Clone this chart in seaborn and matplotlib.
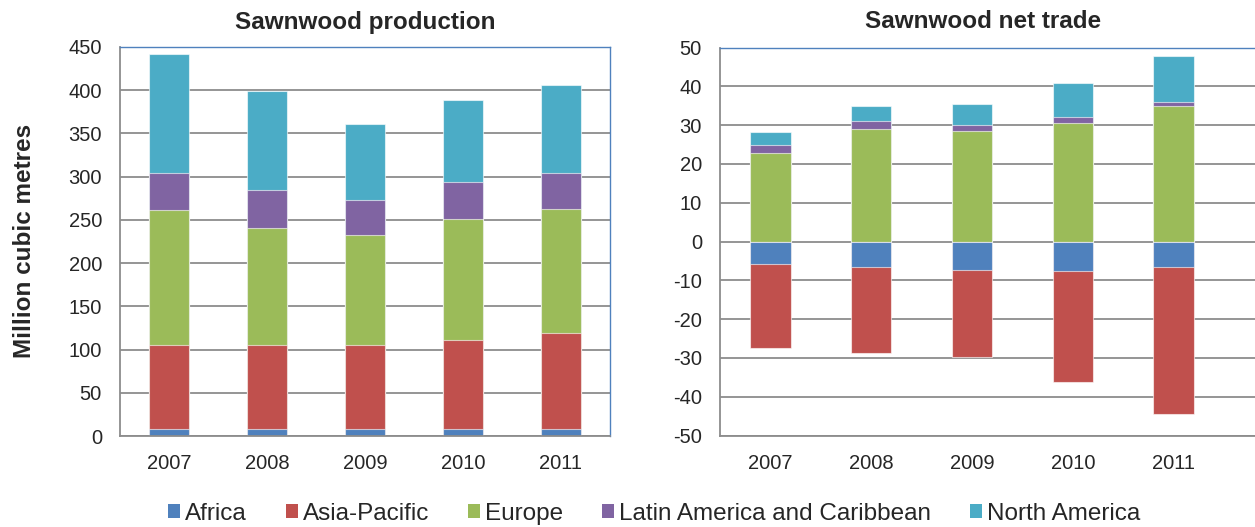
import numpy as np
import matplotlib
matplotlib.use("Agg")
import matplotlib.pyplot as plt
import seaborn as sns
from matplotlib.patches import Patch

years = ['2007', '2008', '2009', '2010', '2011']
regions = ['Africa', 'Asia-Pacific', 'Europe', 'Latin America and Caribbean', 'North America']
colors = ['#4F81BD', '#C0504D', '#9BBB59', '#8064A2', '#4BACC6']

# production, million m3
prod_africa = [8, 8, 8, 8, 8]
prod_asia = [97, 97, 97, 103, 111]
prod_europe = [156, 136, 127, 140, 144]
prod_latin = [43, 43, 41, 43, 41]
prod_namerica = [138, 115, 88, 95, 102]

# net trade, million m3
trade_africa = [-5.8, -6.5, -7.3, -7.6, -6.5]
trade_asia = [-21.6, -22.3, -22.5, -28.6, -37.9]
trade_europe = [22.9, 29.0, 28.6, 30.6, 35.0]
trade_latin = [1.9, 2.0, 1.3, 1.4, 0.9]
trade_namerica = [3.5, 4.0, 5.5, 8.8, 12.0]

sns.set_style("white")
plt.rcParams['font.family'] = ['Liberation Sans', 'DejaVu Sans']
plt.rcParams['axes.unicode_minus'] = False

grid_col = '#8c8c8c'
border_col = '#4F81BD'


def stack_bars(ax, series, cols):
    # draw cumulative sums biggest first so the smaller ones sit on top
    cum = np.cumsum(np.array(series), axis=0)
    for i in range(len(series) - 1, -1, -1):
        sns.barplot(x=years, y=cum[i], color=cols[i], width=0.4, errorbar=None,
                    edgecolor=(1, 1, 1, 0.6), linewidth=0.8, saturation=1, ax=ax)


def style_axes(ax, ticks, xmax):
    ax.set_axisbelow(True)
    ax.yaxis.grid(True, color=grid_col, linewidth=1.3)
    ax.set_yticks(ticks)
    ax.set_xlim(-0.5, xmax)
    ax.set_xticks(range(len(years)))
    ax.set_xticklabels(years)
    ax.set_xticks(np.arange(-0.5, len(years), 1), minor=True)
    ax.tick_params(axis='x', which='major', length=0, pad=13, labelsize=14.5)
    ax.tick_params(axis='x', which='minor', length=5, width=1.2, color=grid_col, direction='out')
    ax.tick_params(axis='y', length=5, width=1.2, color=grid_col, direction='out', pad=8, labelsize=14.5)
    ax.set_xlabel('')
    ax.set_ylabel('')
    for s in ['left', 'bottom']:
        ax.spines[s].set_color(grid_col)
        ax.spines[s].set_linewidth(1.3)
    for s in ['top', 'right']:
        ax.spines[s].set_color(border_col)
        ax.spines[s].set_linewidth(1.0)


fig = plt.figure(figsize=(12.55, 5.27), dpi=100)
ax1 = fig.add_axes([120 / 1255, 1 - 436 / 527, 490 / 1255, 389 / 527])
ax2 = fig.add_axes([720 / 1255, 1 - 435.5 / 527, 535 / 1255, 388 / 527])

# left: production
stack_bars(ax1, [prod_africa, prod_asia, prod_europe, prod_latin, prod_namerica], colors)
ax1.set_ylim(0, 450)
style_axes(ax1, np.arange(0, 451, 50), 4.5)

# right: net trade, positives stacked up, negatives stacked down
stack_bars(ax2, [trade_europe, trade_latin, trade_namerica], colors[2:])
stack_bars(ax2, [trade_africa, trade_asia], colors[:2])
ax2.set_ylim(-50, 50)
style_axes(ax2, np.arange(-50, 51, 10), -0.5 + 535 / 100.8)
ax2.spines['right'].set_visible(False)

fig.text(365 / 1255, 1 - 22 / 527, 'Sawnwood production', ha='center', va='center',
         fontsize=17.5, fontweight='bold')
fig.text(983 / 1255, 1 - 22 / 527, 'Sawnwood net trade', ha='center', va='center',
         fontsize=17.5, fontweight='bold')
fig.text(25 / 1255, 1 - 241 / 527, 'Million cubic metres', ha='center', va='center',
         rotation=90, fontsize=17.5, fontweight='bold')

handles = [Patch(facecolor=c, edgecolor='none') for c in colors]
fig.legend(handles, regions, loc='center', bbox_to_anchor=(654 / 1255, 1 - 514 / 527),
           ncol=5, frameon=False, fontsize=17.5, handlelength=0.5, handleheight=0.5,
           handletextpad=0.2, columnspacing=1.6, borderaxespad=0, borderpad=0)

fig.savefig('out.png', dpi=100)
